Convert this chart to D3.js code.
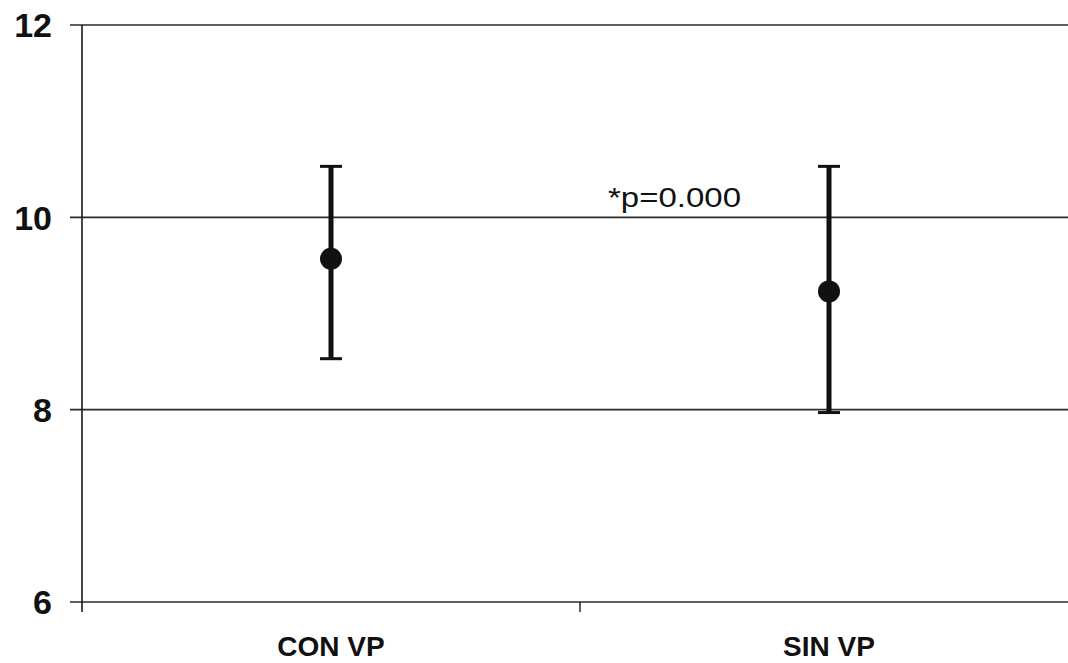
<!DOCTYPE html>
<html>
<head>
<meta charset="utf-8">
<script src="https://cdn.jsdelivr.net/npm/d3@7"></script>
<style>
  html, body { margin: 0; padding: 0; background: #fff; }
  svg { display: block; }
</style>
</head>
<body>
<svg id="chart" width="1068" height="663"></svg>
<script>
const categories = ["CON VP", "SIN VP"];
const means = [9.57, 9.23];
const lows = [8.53, 7.97];
const highs = [10.53, 10.53];
const yTicks = [6, 8, 10, 12];
const annotation = "*p=0.000";

(function () {
const svg = d3.select("#chart");
const mLeft = 82, mRight = 1078, mTop = 25, mBottom = 602;

const x = d3.scaleBand().domain(categories).range([mLeft, mRight]).padding(0);
const y = d3.scaleLinear().domain([6, 12]).range([mBottom, mTop]);

// gridlines (and y tick marks extending left)
svg.append("g").selectAll("line").data(yTicks).join("line")
  .attr("x1", mLeft - 12).attr("x2", 1068)
  .attr("y1", d => y(d)).attr("y2", d => y(d))
  .attr("stroke", "#2a2a2a").attr("stroke-width", 1.6);

// y axis line
svg.append("line")
  .attr("x1", mLeft).attr("x2", mLeft).attr("y1", mTop).attr("y2", mBottom + 10)
  .attr("stroke", "#1a1a1a").attr("stroke-width", 1.6);

// x boundary ticks
const bounds = [x(categories[1])];
svg.append("g").selectAll("line").data(bounds).join("line")
  .attr("x1", d => d).attr("x2", d => d)
  .attr("y1", mBottom).attr("y2", mBottom + 10)
  .attr("stroke", "#1a1a1a").attr("stroke-width", 1.4);

// y tick labels
svg.append("g").selectAll("text").data(yTicks).join("text")
  .attr("x", 52).attr("y", d => y(d))
  .attr("dy", "0.36em")
  .attr("text-anchor", "end")
  .attr("font-family", "Liberation Sans, Arial, sans-serif")
  .attr("font-weight", "bold").attr("font-size", 34)
  .attr("fill", "#111")
  .text(d => d);

// x category labels
svg.append("g").selectAll("text").data(categories).join("text")
  .attr("x", d => x(d) + x.bandwidth() / 2).attr("y", 656)
  .attr("text-anchor", "middle")
  .attr("font-family", "Liberation Sans, Arial, sans-serif")
  .attr("font-weight", "bold").attr("font-size", 28)
  .attr("fill", "#111")
  .text(d => d);

const data = categories.map((c, i) => ({ c, m: means[i], lo: lows[i], hi: highs[i] }));
const cx = d => x(d.c) + x.bandwidth() / 2;

const g = svg.append("g");
g.selectAll("line.v").data(data).join("line").attr("class", "v")
  .attr("x1", cx).attr("x2", cx)
  .attr("y1", d => y(d.hi)).attr("y2", d => y(d.lo))
  .attr("stroke", "#111").attr("stroke-width", 5);
g.selectAll("line.ct").data(data).join("line").attr("class", "ct")
  .attr("x1", d => cx(d) - 11).attr("x2", d => cx(d) + 11)
  .attr("y1", d => y(d.hi)).attr("y2", d => y(d.hi))
  .attr("stroke", "#111").attr("stroke-width", 3);
g.selectAll("line.cb").data(data).join("line").attr("class", "cb")
  .attr("x1", d => cx(d) - 11).attr("x2", d => cx(d) + 11)
  .attr("y1", d => y(d.lo)).attr("y2", d => y(d.lo))
  .attr("stroke", "#111").attr("stroke-width", 3);
g.selectAll("circle").data(data).join("circle")
  .attr("cx", cx).attr("cy", d => y(d.m)).attr("r", 11)
  .attr("fill", "#111");

// annotation
svg.append("text")
  .attr("x", 608).attr("y", 207)
  .attr("font-family", "Liberation Sans, Arial, sans-serif")
  .attr("font-size", 28)
  .attr("textLength", 133).attr("lengthAdjust", "spacingAndGlyphs")
  .attr("fill", "#111")
  .text(annotation);
})();
</script>
</body>
</html>
